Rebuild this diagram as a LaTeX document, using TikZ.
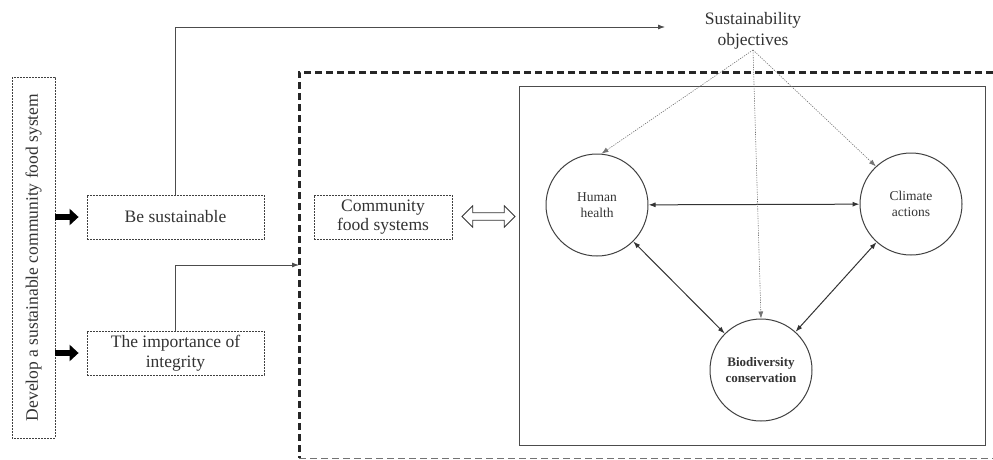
\documentclass[tikz,border=0pt]{standalone}
\usepackage{fontspec}
\setmainfont{Liberation Serif}
\usetikzlibrary{arrows.meta,shapes.arrows,calc}
\begin{document}
\begin{tikzpicture}[x=1pt,y=-1pt,
  dbox/.style={draw=black!75, dash pattern=on 2pt off 1pt, line width=0.8pt,
    minimum width=177pt, minimum height=44pt, inner sep=1pt, align=center,
    font=\fontsize{17.5}{19.5}\selectfont, text=black!80},
  circ/.style={circle, draw=black!75, line width=1pt, minimum size=102pt,
    inner sep=0pt, align=center, font=\fontsize{13.5}{16}\selectfont, text=black!80},
  conn/.style={draw=black!70, line width=0.8pt, -{Latex[length=7pt,width=5pt]}},
  biconn/.style={draw=black!80, line width=1pt, {Latex[length=7pt,width=5pt]}-{Latex[length=7pt,width=5pt]}},
  dotconn/.style={draw=black!55, line width=0.6pt, dash pattern=on 1.2pt off 1.2pt, -{Latex[length=7pt,width=5pt]}},
  fatarrow/.style={draw=black, line width=6pt, -{Triangle[length=9pt,width=16pt]}, shorten >=8pt},
  hollowarrow/.style={double arrow, draw=black!80, line width=0.8pt, fill=white,
    minimum height=53pt, text height=0pt, text depth=0pt, text width=0pt, inner sep=3.3pt,
    double arrow head extend=7pt, double arrow tip angle=90},
]
\useasboundingbox (0,0) rectangle (993,459);

% outer dashed frame
\draw[line width=3pt, dash pattern=on 7pt off 4pt, black!85] (993,72) -- (299,72) -- (299,458);
\draw[line width=0.8pt, dash pattern=on 7pt off 4pt, black!55] (299,458) -- (993,458);

% left column
\node[dbox, rotate=90, minimum width=361pt, minimum height=43pt, font=\fontsize{17.5}{20}\selectfont] (dev) at (33.5,257.5) {Develop a sustainable community food system};
\node[dbox] (bs) at (175.5,217) {Be sustainable};
\node[dbox] (imp) at (175.5,353) {The importance of\\integrity};
\node[dbox, minimum width=138pt] (cfs) at (383,217) {Community\\food systems};

% inner box and circles
\node[draw=black!70, line width=1pt, minimum width=466pt, minimum height=359pt, inner sep=0pt] (inner) at (752,265.5) {};
\node[circ] (hh) at (597,205) {Human\\health};
\node[circ] (ca) at (911,204) {Climate\\actions};
\node[circ, font=\fontsize{13}{16}\selectfont\bfseries] (bio) at (761,370) {Biodiversity\\conservation};

\node[anchor=south, inner sep=1pt, align=center, font=\fontsize{17.5}{21}\selectfont, text=black!80] (so) at (753,50) {Sustainability\\objectives};
\coordinate (soin) at (665,27);
\coordinate (framein) at (299,265);

% connectors
\draw[fatarrow] (dev.south |- bs.west) -- (bs.west);
\draw[fatarrow] (dev.south |- imp.west) -- (imp.west);
\draw[conn] (bs.north) |- (soin);
\draw[conn] (imp.north) |- (framein);

\node[hollowarrow] (da) at (488.5,216.5) {};

\draw[biconn] (hh) -- (ca);
\draw[biconn] (hh) -- (bio);
\draw[biconn] (ca) -- (bio);

\draw[dotconn] (so.south) -- (hh.85);
\draw[dotconn] (so.south) -- (ca.133);
\draw[dotconn] (so.south) -- (bio.north);
\end{tikzpicture}
\end{document}
